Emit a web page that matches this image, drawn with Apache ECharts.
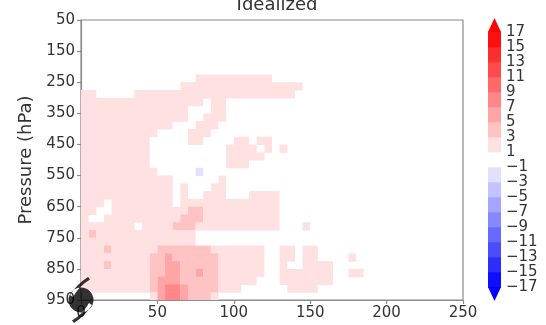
<!DOCTYPE html>
<html><head><meta charset="utf-8">
<script src="https://cdn.jsdelivr.net/npm/echarts@6/dist/echarts.min.js"></script>
<style>html,body{margin:0;padding:0;background:#fff}#c{width:546px;height:325px}</style>
</head><body><div id="c"></div>
<script>
// ---------- data ----------
const chartTitle = 'Idealized';
const yAxisName = 'Pressure (hPa)';
const xTicks = [0, 50, 100, 150, 200, 250];
const pTicks = [50, 150, 250, 350, 450, 550, 650, 750, 850, 950];
const levels = [-17, -15, -13, -11, -9, -7, -5, -3, -1, 1, 3, 5, 7, 9, 11, 13, 15, 17];
const xStep = 5;      // width of one field cell (x units)
const pStep = 25;     // height of one field cell (hPa)
// field class codes -> value (bin mid-values)
const codeValues = { '.': 0, '1': 2, '2': 4, '3': 6, '4': 8, 'b': -2 };
// field rows from 50 hPa (top) to 950 hPa, run-length coded "code:count", 50 cells per row
const fieldRows = [
  '.:50', '.:50', '.:50', '.:50', '.:50', '.:50', '.:50',
  '.:15 1:10 .:25',
  '.:13 1:16 .:21',
  '1:2 .:5 1:21 .:22',
  '1:16 .:1 1:2 .:31',
  '1:14 .:3 1:2 .:31',
  '1:14 .:2 1:3 .:31',
  '1:12 .:3 1:3 .:32',
  '1:10 .:4 1:3 .:33',
  '1:9 .:5 1:2 .:4 1:2 .:1 1:2 .:25',
  '1:9 .:10 1:4 .:1 1:1 .:1 1:1 .:23',
  '1:9 .:10 1:5 .:26',
  '1:9 .:10 1:3 .:28',
  '1:10 .:5 b:1 .:34',
  '1:12 .:6 1:1 .:31',
  '1:12 .:1 1:1 .:3 1:2 .:31',
  '1:12 .:1 1:1 .:2 1:3 .:3 1:4 .:24',
  '1:3 .:1 1:8 .:1 1:13 .:24',
  '1:2 .:2 1:10 2:2 1:10 .:24',
  '1:1 .:2 1:10 2:3 1:10 .:24',
  '1:7 .:1 1:4 2:3 1:11 .:3 1:1 .:20',
  '1:1 2:1 1:13 .:35',
  '1:15 .:35',
  '1:3 2:1 1:6 2:7 1:7 .:2 1:2 .:1 1:2 .:19',
  '1:9 2:2 3:1 2:6 1:6 .:2 1:2 .:1 1:2 .:4 1:1 .:14',
  '1:3 2:1 1:5 2:2 3:2 2:5 1:6 .:2 1:1 .:2 1:4 .:17',
  '1:9 2:2 3:2 2:2 3:1 2:2 1:6 .:2 1:7 .:2 1:2 .:13',
  '1:9 2:1 3:3 2:5 1:5 .:3 1:7 .:17',
  '1:9 2:1 3:1 4:2 3:1 2:4 1:3 .:6 1:4 .:19',
  '.:9 1:1 3:1 4:2 3:1 2:3 1:1 .:32'
];
const stormMarker = [[0, 950]];

// ---------- helpers ----------
const FONT = 'DejaVu Sans';
const vMin = levels[0], vMax = levels[levels.length - 1];
function bwr(v) {
  const t = Math.max(0, Math.min(1, (v - vMin) / (vMax - vMin)));
  let r, g, b;
  if (t <= 0.5) { const f = t / 0.5; r = 255 * f; g = 255 * f; b = 255; }
  else { const f = (t - 0.5) / 0.5; r = 255; g = 255 * (1 - f); b = 255 * (1 - f); }
  return 'rgb(' + Math.round(r) + ',' + Math.round(g) + ',' + Math.round(b) + ')';
}
function binColor(v) {
  if (v > vMax) return bwr(vMax + 10);
  if (v < vMin) return bwr(vMin - 10);
  for (let i = 0; i < levels.length - 1; i++) {
    if (v >= levels[i] && v <= levels[i + 1]) return bwr((levels[i] + levels[i + 1]) / 2);
  }
  return '#fff';
}
// build merged runs of cells: [x0, x1, p0, p1, value]
const cells = [];
fieldRows.forEach((row, i) => {
  const p0 = pTicks[0] + i * pStep, p1 = p0 + pStep;
  let col = 0;
  row.split(' ').forEach(tok => {
    const [c, n] = tok.split(':');
    const cnt = parseInt(n, 10);
    const v = codeValues[c];
    if (v !== 0) cells.push([col * xStep, (col + cnt) * xStep, p0, p1, v]);
    col += cnt;
  });
});
const cbBins = [];
for (let i = 0; i < levels.length - 1; i++) cbBins.push([levels[i], levels[i + 1], (levels[i] + levels[i + 1]) / 2]);
const cbExtends = [[vMax, 1], [vMin, -1]];
const minusFmt = v => String(v).replace('-', '\u2212');

const axisGray = '#8c8c8c';
const chart = echarts.init(document.getElementById('c'), null, { renderer: 'canvas' });
chart.setOption({
  animation: false,
  backgroundColor: '#ffffff',
  textStyle: { fontFamily: FONT },
  title: {
    text: chartTitle, left: 272, textAlign: 'center', top: -9,
    textStyle: { fontFamily: FONT, fontSize: 18, fontWeight: 'normal', color: '#333' }
  },
  grid: [
    { left: 81, right: 83, top: 20, bottom: 25, show: true, borderColor: axisGray, borderWidth: 1.2 },
    { left: 488, width: 13, top: 32, height: 255 }
  ],
  xAxis: [
    {
      type: 'value', gridIndex: 0, min: xTicks[0], max: xTicks[xTicks.length - 1], interval: xTicks[1] - xTicks[0],
      axisLine: { show: true, lineStyle: { color: axisGray, width: 1.2 } },
      axisTick: { show: true, length: 4, lineStyle: { color: axisGray, width: 1.2 } },
      axisLabel: { fontFamily: FONT, fontSize: 15, color: '#333', margin: 6 },
      splitLine: { show: false }
    },
    { type: 'value', gridIndex: 1, min: 0, max: 1, show: false }
  ],
  yAxis: [
    {
      type: 'value', gridIndex: 0, inverse: true, min: pTicks[0], max: pTicks[pTicks.length - 1], interval: pTicks[1] - pTicks[0],
      name: yAxisName, nameLocation: 'middle', nameGap: 46,
      nameTextStyle: { fontFamily: FONT, fontSize: 18, color: '#333' },
      axisLine: { show: true, lineStyle: { color: axisGray, width: 1.2 } },
      axisTick: { show: true, length: 4, lineStyle: { color: axisGray, width: 1.2 } },
      axisLabel: { fontFamily: FONT, fontSize: 15, color: '#333', margin: 6 },
      splitLine: { show: false }
    },
    {
      type: 'value', gridIndex: 1, min: vMin, max: vMax, interval: 2, position: 'right',
      axisLine: { show: false },
      axisTick: { show: true, length: 4, lineStyle: { color: '#666' } },
      axisLabel: { fontFamily: FONT, fontSize: 15, color: '#333', margin: 5, formatter: minusFmt },
      splitLine: { show: false }
    }
  ],
  series: [
    {
      type: 'custom', xAxisIndex: 0, yAxisIndex: 0, data: cells, silent: true, clip: true,
      encode: { x: [0, 1], y: [2, 3] },
      renderItem: function (params, api) {
        const a = api.coord([api.value(0), api.value(2)]);
        const b = api.coord([api.value(1), api.value(3)]);
        return {
          type: 'rect',
          shape: { x: a[0], y: a[1], width: b[0] - a[0], height: b[1] - a[1] + 0.6 },
          style: { fill: binColor(api.value(4)) }
        };
      }
    },
    {
      type: 'custom', xAxisIndex: 1, yAxisIndex: 1, data: cbBins, silent: true,
      encode: { y: [0, 1] },
      renderItem: function (params, api) {
        const a = api.coord([0, api.value(1)]);
        const b = api.coord([1, api.value(0)]);
        return {
          type: 'rect',
          shape: { x: a[0], y: a[1] - 0.3, width: b[0] - a[0], height: b[1] - a[1] + 0.6 },
          style: { fill: bwr(api.value(2)) }
        };
      }
    },
    {
      type: 'custom', xAxisIndex: 1, yAxisIndex: 1, data: cbExtends, silent: true, clip: false,
      renderItem: function (params, api) {
        const lvl = api.value(0), dir = api.value(1);
        const top = api.coord([0, vMax]), bot = api.coord([0, vMin]);
        const ext = 0.055 * (bot[1] - top[1]);
        const l = api.coord([0, lvl]), r = api.coord([1, lvl]);
        const tipY = l[1] - dir * ext;
        return {
          type: 'polygon',
          shape: { points: [[l[0], l[1]], [r[0], r[1]], [(l[0] + r[0]) / 2, tipY]] },
          style: { fill: binColor(lvl + dir * 5) }
        };
      }
    },
    {
      type: 'scatter', xAxisIndex: 0, yAxisIndex: 0, data: stormMarker, silent: true, clip: false, z: 50,
      symbol: 'path://M7.5 23 A12.5 12.5 0 1 0 32.5 23 A12.5 12.5 0 1 0 7.5 23 Z M9 18 Q16 7 27 0 L29 2.5 Q18 9 12 20 Z M31 28 Q24 39 13 46 L11 43.5 Q22 37 28 26 Z',
      symbolSize: [25, 46],
      itemStyle: { color: '#000' }
    }
  ]
});
</script></body></html>
